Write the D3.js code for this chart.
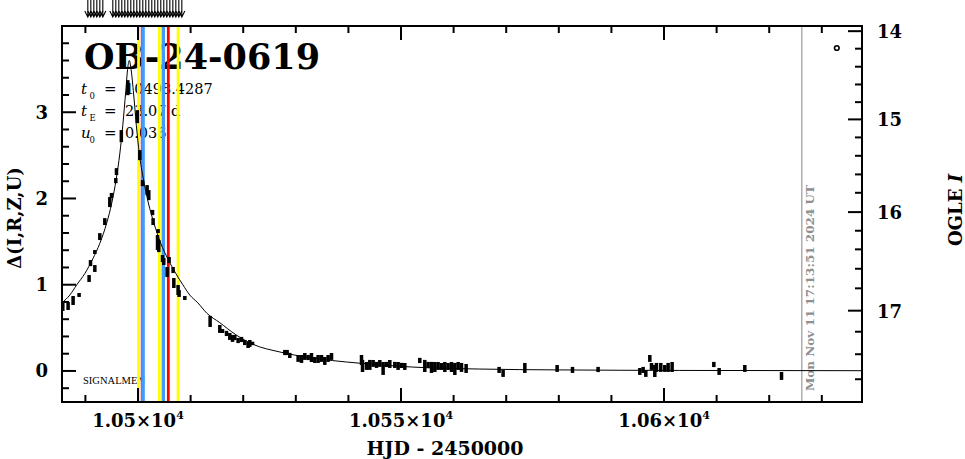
<!DOCTYPE html>
<html><head><meta charset="utf-8">
<script src="https://cdn.jsdelivr.net/npm/d3@7"></script>
<style>body{margin:0;background:#fff}svg{display:block}</style>
</head><body>
<svg id="c" width="965" height="459"></svg>
<script>
// ---------- data ----------
const eventName = "OB-24-0619";
const paramNames = ["t", "t", "u"];
const paramSubs = ["0", "E", "0"];
const paramValues = ["10498.4287", "23.07 d", "0.036"];
const xDomain = [10485.55, 10637.64];
const yDomain = [-0.36, 4.0];
const xTicks = [10490,10500,10510,10520,10530,10540,10550,10560,10570,10580,10590,10600,10610,10620,10630];
const xMajor = [10500, 10550, 10600];
const xTickLabels = ["1.05×10", "1.055×10", "1.06×10"];
const xTickExp = "4";
const yTicks = [-0.2,0,0.2,0.4,0.6,0.8,1,1.2,1.4,1.6,1.8,2,2.2,2.4,2.6,2.8,3,3.2,3.4,3.6,3.8];
const yMajor = [0, 1, 2, 3];
const rightTickMags = [14,14.2,14.4,14.6,14.8,15,15.2,15.4,15.6,15.8,16,16.2,16.4,16.6,16.8,17,17.2,17.4,17.6];
const rightTickDelta = [3.940,3.737,3.528,3.322,3.117,2.917,2.708,2.495,2.279,2.066,1.842,1.626,1.410,1.185,0.958,0.699,0.455,0.194,-0.096];
const rightMajor = [14, 15, 16, 17];
const xLabel = "HJD - 2450000";
const yLabel = "Δ(I,R,Z,U)";
const rightLabel = ["OGLE ", "I"];
const stampText = "Mon Nov 11 17:13:51 2024 UT";
const stampT = 10626.2;
const surveyText = "SIGNALMEN";
const markerT = 10632.85, markerD = 3.745;

// model curve
const curveT = [10485.55,10487.03,10488.37,10489.89,10491.41,10492.74,10494.07,10495.02,10495.87,10496.54,10497.11,10497.68,10498.06,10498.35,10498.63,10499.11,10499.68,10500.25,10501.01,10501.96,10503.00,10504.33,10505.67,10507.19,10508.52,10509.85,10511.37,10513.08,10515.55,10518.6,10521.83,10526.96,10532.66,10537.03,10542.17,10552.24,10564.98,10580.2,10603.0,10637.6];
const curveD = [0.79,0.88,1.00,1.13,1.30,1.48,1.72,1.95,2.23,2.52,2.85,3.25,3.52,3.60,3.52,3.25,2.85,2.52,2.23,1.95,1.72,1.48,1.30,1.13,1.00,0.88,0.79,0.67,0.56,0.42,0.31,0.22,0.155,0.12,0.09,0.045,0.022,0.012,0.006,0.003];

// photometry: time, delta, error
const obsT = [10485.70,10486.71,10487.66,10488.80,10490.70,10490.97,10491.79,10491.79,10492.74,10493.69,10494.64,10494.96,10495.78,10495.91,10496.83,10498.06,10499.87,10500.34,10500.86,10501.73,10502.05,10502.76,10502.87,10503.71,10503.95,10503.82,10504.66,10504.90,10505.53,10505.91,10506.67,10506.81,10507.62,10507.81,10508.90,10513.71,10515.55,10516.06,10516.83,10517.45,10517.97,10518.40,10519.03,10519.68,10520.30,10520.93,10521.25,10521.77,10527.91,10528.35,10528.86,10530.44,10531.08,10531.71,10532.34,10532.98,10533.61,10534.24,10534.89,10535.51,10536.14,10536.79,10542.49,10542.68,10543.44,10544.07,10544.70,10545.34,10545.97,10546.60,10547.24,10547.87,10548.82,10549.45,10550.10,10550.72,10553.57,10554.52,10555.15,10555.80,10556.43,10557.05,10557.70,10558.33,10558.95,10559.60,10560.23,10560.86,10561.50,10562.38,10568.65,10569.41,10573.54,10579.68,10582.60,10587.47,10595.40,10596.03,10596.54,10597.30,10597.62,10598.25,10598.57,10599.39,10600.15,10600.78,10601.54,10609.47,10610.48,10615.36,10622.34];
const obsD = [0.742,0.753,0.817,0.881,1.072,1.251,1.188,1.379,1.558,1.732,1.958,2.034,2.207,2.312,2.723,3.285,2.949,2.503,2.178,2.097,2.039,1.837,1.732,1.489,1.448,1.622,1.304,1.269,1.147,1.286,1.170,1.020,0.939,0.898,0.846,0.574,0.487,0.463,0.435,0.400,0.377,0.388,0.353,0.365,0.330,0.301,0.319,0.319,0.214,0.214,0.180,0.145,0.139,0.168,0.156,0.156,0.127,0.139,0.145,0.116,0.145,0.168,0.127,0.058,0.058,0.070,0.087,0.070,0.087,0.029,0.075,0.081,0.070,0.058,0.064,0.052,0.122,0.058,0.070,0.041,0.046,0.058,0.052,0.046,0.052,0.046,0.023,0.058,0.041,0.029,0.012,-0.029,0.035,0.029,0.012,0.017,-0.006,0.012,-0.029,0.145,0.052,0.0,0.041,0.041,0.029,0.041,0.046,0.075,-0.006,0.029,-0.058];
const obsE = [0.046,0.046,0.052,0.023,0.04,0.035,0.04,0.023,0.04,0.04,0.058,0.03,0.03,0.04,0.07,0.087,0.075,0.058,0.035,0.058,0.058,0.03,0.04,0.087,0.07,0.023,0.04,0.04,0.058,0.035,0.035,0.058,0.058,0.04,0.023,0.064,0.046,0.023,0.03,0.04,0.04,0.03,0.03,0.03,0.03,0.035,0.04,0.02,0.03,0.03,0.03,0.04,0.046,0.04,0.03,0.052,0.035,0.046,0.04,0.046,0.04,0.04,0.058,0.07,0.046,0.058,0.04,0.035,0.04,0.075,0.03,0.046,0.035,0.046,0.03,0.04,0.03,0.07,0.035,0.064,0.058,0.046,0.04,0.058,0.04,0.058,0.07,0.046,0.052,0.052,0.035,0.04,0.058,0.04,0.035,0.03,0.04,0.035,0.04,0.04,0.04,0.07,0.052,0.052,0.04,0.052,0.058,0.03,0.04,0.04,0.046];

// alert arrows along the top
const arrowT = [10490.46,10491.03,10491.60,10492.17,10492.74,10493.31,10495.21,10495.78,10496.35,10496.92,10497.49,10498.06,10498.63,10499.20,10499.77,10500.34,10500.91,10501.48,10502.05,10502.62,10503.19,10503.76,10504.33,10504.90,10505.48,10506.05,10506.62,10507.19,10507.76,10508.33];

// coloured vertical markers
const vlineT = [10500.10,10500.63,10500.97,10504.05,10504.81,10505.76,10507.62];
const vlineKind = ["yellow","redThin","blue","yellow","blue","red","yellow"];

// ---------- drawing ----------
const kindStyle = {
  yellow: {c: "#ffff00", w: 2.8},
  blue: {c: "#3f9bff", w: 3.4},
  red: {c: "#ff0000", w: 2.8},
  redThin: {c: "#ff0000", w: 1}
};
const serif = "'DejaVu Serif', serif";
const svg = d3.select("#c");
const L = 62, R = 862, T = 26, B = 402;
const x = d3.scaleLinear().domain(xDomain).range([L, R]);
const y = d3.scaleLinear().domain(yDomain).range([B, T]);
const magToDelta = d3.scaleLinear().domain(rightTickMags).range(rightTickDelta);

// title + params (drawn first; lines & data overlay them)
svg.append("text").attr("x", 84).attr("y", 68.5)
  .attr("font-family", serif).attr("font-weight", "bold").attr("font-size", 36)
  .attr("textLength", 236).attr("lengthAdjust", "spacingAndGlyphs")
  .text(eventName);
const rowY = [93.5, 115.5, 137.5];
paramNames.forEach((n, i) => {
  svg.append("text").attr("x", 81).attr("y", rowY[i]).attr("font-family", serif)
    .attr("font-style", "italic").attr("font-size", 15).text(n);
  svg.append("text").attr("x", 89.5).attr("y", rowY[i] + 5).attr("font-family", serif)
    .attr("font-size", 8.5).text(paramSubs[i]);
  svg.append("text").attr("x", 104).attr("y", rowY[i]).attr("font-family", serif)
    .attr("font-size", 15).text("=");
  svg.append("text").attr("x", 125).attr("y", rowY[i]).attr("font-family", serif)
    .attr("font-size", 14.5).text(paramValues[i]);
});
svg.append("text").attr("x", 83).attr("y", 384).attr("font-family", "'Liberation Serif', serif")
  .attr("font-size", 9.5).attr("textLength", 62).attr("lengthAdjust", "spacingAndGlyphs").text(surveyText);

// vertical coloured lines
svg.append("g").selectAll("line").data(vlineT).join("line")
  .attr("x1", d => x(d)).attr("x2", d => x(d)).attr("y1", T).attr("y2", B)
  .attr("stroke", (d, i) => kindStyle[vlineKind[i]].c)
  .attr("stroke-width", (d, i) => kindStyle[vlineKind[i]].w);

// date stamp line
svg.append("line").attr("x1", x(stampT)).attr("x2", x(stampT)).attr("y1", T).attr("y2", B)
  .attr("stroke", "#999").attr("stroke-width", 1.2);
svg.append("text").attr("transform", `translate(${x(stampT) + 12},391) rotate(-90)`)
  .attr("font-family", "'DejaVu Serif', serif").attr("font-weight", "bold").attr("font-size", 11)
  .attr("fill", "#8f8f8f").attr("textLength", 206).attr("lengthAdjust", "spacingAndGlyphs")
  .text(stampText);

// data bars
svg.append("g").selectAll("rect").data(obsT).join("rect")
  .attr("x", d => x(d) - 1.75).attr("width", 3.5)
  .attr("y", (d, i) => Math.min(y(obsD[i] + obsE[i]), y(obsD[i]) - 1.5))
  .attr("height", (d, i) => Math.max(y(obsD[i] - obsE[i]) - y(obsD[i] + obsE[i]), 3))
  .attr("fill", "#000");

// model curve
const line = d3.line().x(d => x(d[0])).y(d => y(d[1])).curve(d3.curveMonotoneX);
svg.append("path").datum(curveT.map((t, i) => [t, curveD[i]]))
  .attr("d", line).attr("fill", "none").attr("stroke", "#000").attr("stroke-width", 1);

// marker circle
svg.append("circle").attr("cx", x(markerT)).attr("cy", y(markerD)).attr("r", 2.3)
  .attr("fill", "none").attr("stroke", "#000").attr("stroke-width", 1.6);

// arrows
const ag = svg.append("g").attr("stroke", "#000").attr("stroke-width", 1.1).attr("fill", "none");
arrowT.forEach(t => {
  const px = x(t);
  ag.append("path").attr("d", `M${px},0 L${px},17 M${px - 3},11 L${px},17 L${px + 3},11`);
});

// frame
svg.append("rect").attr("x", L).attr("y", T).attr("width", R - L).attr("height", B - T)
  .attr("fill", "none").attr("stroke", "#000").attr("stroke-width", 2);

// ticks
const tg = svg.append("g").attr("stroke", "#000").attr("stroke-width", 2);
xTicks.forEach(t => {
  const len = xMajor.includes(t) ? 14 : 7;
  tg.append("line").attr("x1", x(t)).attr("x2", x(t)).attr("y1", B).attr("y2", B - len);
  tg.append("line").attr("x1", x(t)).attr("x2", x(t)).attr("y1", T).attr("y2", T + len);
});
yTicks.forEach(v => {
  const len = yMajor.some(m => Math.abs(m - v) < 1e-9) ? 14 : 7;
  tg.append("line").attr("x1", L).attr("x2", L + len).attr("y1", y(v)).attr("y2", y(v));
});
rightTickMags.forEach(m => {
  const len = rightMajor.some(k => Math.abs(k - m) < 1e-9) ? 14 : 7;
  const yy = y(magToDelta(m));
  tg.append("line").attr("x1", R).attr("x2", R - len).attr("y1", yy).attr("y2", yy);
});

// tick labels
const lab = {family: serif, size: 18};
yMajor.forEach(v => {
  svg.append("text").attr("x", 48).attr("y", y(v) + 6.5).attr("text-anchor", "end")
    .attr("font-family", lab.family).attr("font-weight", "bold").attr("font-size", lab.size).text(String(v));
});
rightMajor.forEach(m => {
  svg.append("text").attr("x", 877).attr("y", y(magToDelta(m)) + 7)
    .attr("font-family", lab.family).attr("font-weight", "bold").attr("font-size", lab.size).text(String(m));
});
xMajor.forEach((t, i) => {
  const tx = svg.append("text").attr("x", x(t)).attr("y", 427).attr("text-anchor", "middle")
    .attr("font-family", lab.family).attr("font-weight", "bold").attr("font-size", lab.size);
  tx.append("tspan").text(xTickLabels[i]);
  tx.append("tspan").attr("dy", -8).attr("font-size", 11).text(xTickExp);
});

// axis titles
svg.append("text").attr("x", 445).attr("y", 455).attr("text-anchor", "middle")
  .attr("font-family", serif).attr("font-weight", "bold").attr("font-size", 19)
  .attr("xml:space", "preserve").text(xLabel);
svg.append("text").attr("transform", "translate(21,218) rotate(-90)").attr("text-anchor", "middle")
  .attr("font-family", serif).attr("font-weight", "bold").attr("font-size", 18).text(yLabel);
const rl = svg.append("text").attr("transform", "translate(962,210) rotate(-90)").attr("text-anchor", "middle")
  .attr("font-family", serif).attr("font-weight", "bold").attr("font-size", 18);
rl.append("tspan").text(rightLabel[0]);
rl.append("tspan").attr("font-style", "italic").text(rightLabel[1]);
</script>
</body></html>
